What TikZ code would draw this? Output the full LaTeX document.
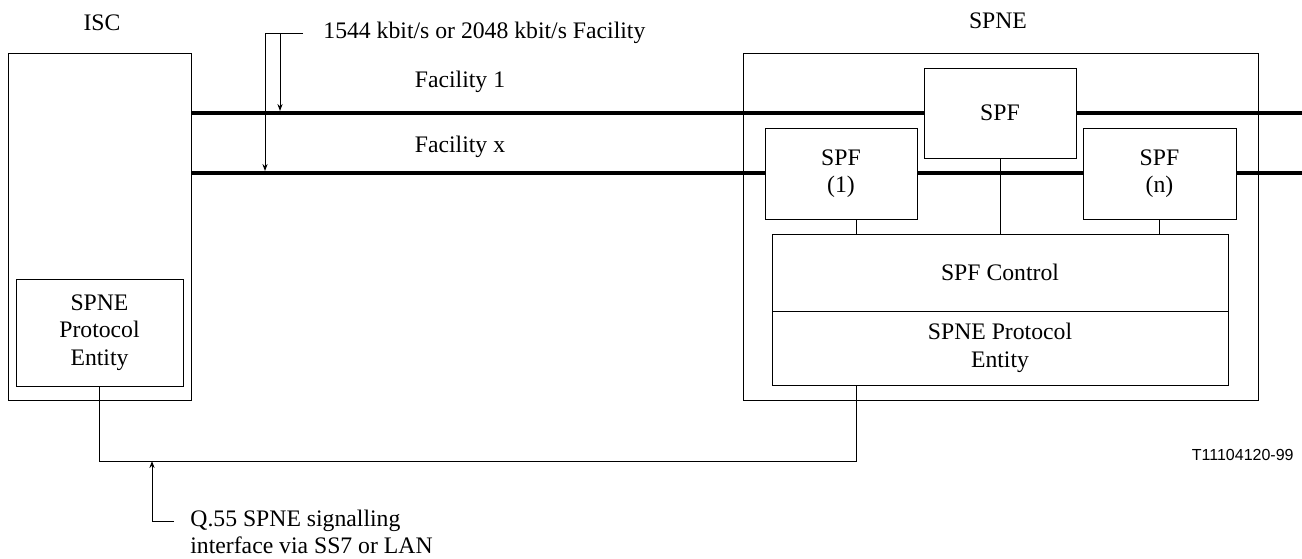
\documentclass[tikz,border=0pt]{standalone}
\usepackage{fontspec}
\setmainfont{Liberation Serif}
\newfontfamily\arialfont{Liberation Sans}
\usetikzlibrary{arrows.meta}
\begin{document}
\begin{tikzpicture}[x=0.5pt,y=-0.5pt,
  txt/.style={font=\fontsize{11.85}{13.8}\selectfont, inner sep=0pt, align=center},
  box/.style={draw, line width=0.5pt, fill=white, inner sep=0pt, align=center,
    font=\fontsize{11.85}{13.8}\selectfont},
  facline/.style={line width=1.8pt},
  thinline/.style={line width=0.5pt},
  arr/.style={line width=0.5pt, -{Stealth[length=3.5pt,width=2.6pt]}}]
\useasboundingbox (0,0) rectangle (1302,558);
% named coordinates
\coordinate (f1e) at (1302,113);
\coordinate (fxe) at (1302,173);
\coordinate (k1) at (856,0);
\coordinate (k2) at (1000,0);
\coordinate (k3) at (1159,0);
\coordinate (bot) at (856,461);
\coordinate (ta) at (303,33);
\coordinate (tb) at (265,33);
\coordinate (tc) at (280,33);
\coordinate (qs) at (174,521);
\coordinate (qa) at (152,461);
% outer boxes
\node[box, fill=none, minimum width=91.5pt, minimum height=173.5pt] (isc) at (99.5,226.5) {};
\node[box, fill=none, minimum width=257.5pt, minimum height=173.5pt] (spne) at (1000.5,226.5) {};
% facility lines
\draw[facline] (f1e -| isc.east) -- (f1e);
\draw[facline] (fxe -| isc.east) -- (fxe);
% inner boxes
\node[box, minimum width=83.5pt, minimum height=53.5pt] (ispe) at (99.5,332.5) {SPNE\\Protocol\\Entity};
\node[box, minimum width=76pt, minimum height=45pt] (spft) at (1000,113) {SPF};
\node[box, minimum width=76pt, minimum height=45.5pt] (spf1) at (841,173.5) {SPF\\(1)};
\node[box, minimum width=76.5pt, minimum height=45.5pt] (spfn) at (1159.5,173.5) {SPF\\(n)};
\node[box, minimum width=228pt, minimum height=38.5pt] (ctrl) at (1000,272.5) {SPF Control};
\node[box, minimum width=228pt, minimum height=37pt] (sppe) at (1000,348) {SPNE Protocol\\Entity};
% connectors inside SPNE
\draw[thinline] (spf1.south -| k1) -- (ctrl.north -| k1);
\draw[thinline] (spft.south) -- (ctrl.north);
\draw[thinline] (spfn.south -| k3) -- (ctrl.north -| k3);
% signalling link
\draw[thinline] (ispe.south) |- (bot) -- (sppe.south -| bot);
\draw[arr] (qs) -| (qa);
% facility annotation
\draw[thinline] (ta) -- (tb);
\draw[arr] (tb) -- (tb |- 0,171);
\draw[arr] (tc) -- (tc |- 0,111);
% labels
\node[txt] (lisc) at (102,23) {ISC};
\node[txt] (lspne) at (998,21) {SPNE};
\node[txt] (lf1) at (460,82) {Facility 1};
\node[txt] (lfx) at (460,147) {Facility x};
\node[txt, anchor=west] (lrate) at (323,33) {1544 kbit/s or 2048 kbit/s Facility};
\node[txt, anchor=west, align=left] (lq55) at (190,532) {Q.55 SPNE signalling\\interface via SS7 or LAN};
\node[inner sep=0pt, anchor=east, font=\arialfont\fontsize{8}{9.6}\selectfont] (lt) at (1294,455) {T11104120-99};
\end{tikzpicture}
\end{document}
